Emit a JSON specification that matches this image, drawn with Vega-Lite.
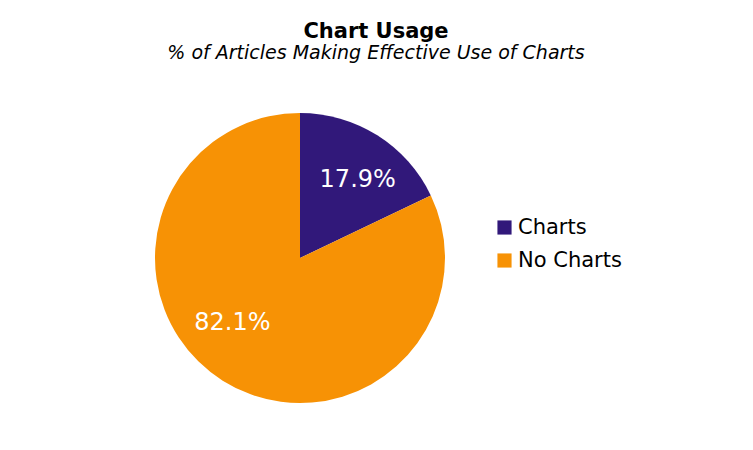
{
  "$schema": "https://vega.github.io/schema/vega-lite/v6.json",
  "autosize": {"type": "none"},
  "width": 600,
  "height": 356,
  "padding": {"left": 0, "top": 80, "right": 153, "bottom": 14},
  "background": "white",
  "config": {
    "font": "DejaVu Sans",
    "view": {"stroke": null}
  },
  "title": {
    "text": "Chart Usage",
    "subtitle": "% of Articles Making Effective Use of Charts",
    "anchor": "middle",
    "dx": 76,
    "offset": 17,
    "fontSize": 21,
    "fontWeight": "bold",
    "color": "black",
    "subtitleFontSize": 19,
    "subtitleFontStyle": "italic",
    "subtitleColor": "black",
    "subtitlePadding": 2
  },
  "data": {
    "values": [
      {"category": "Charts", "share": 0.179},
      {"category": "No Charts", "share": 0.821}
    ]
  },
  "encoding": {
    "theta": {"field": "share", "type": "quantitative", "stack": true, "scale": {"domain": [0, 1]}},
    "order": {"field": "category"}
  },
  "layer": [
    {
      "mark": {"type": "arc", "outerRadius": 145},
      "encoding": {
        "color": {
          "field": "category",
          "type": "nominal",
          "scale": {"domain": ["Charts", "No Charts"], "range": ["#31187A", "#F79205"]},
          "legend": {
            "title": null,
            "orient": "none",
            "legendX": 494,
            "legendY": 137,
            "symbolType": "square",
            "symbolSize": 200,
            "symbolStrokeWidth": 0,
            "labelFontSize": 21,
            "labelColor": "black",
            "rowPadding": 11,
            "labelOffset": 3
          }
        }
      }
    },
    {
      "mark": {"type": "text", "radius": 97, "fontSize": 24, "color": "white", "dx": 6, "dy": 4},
      "encoding": {
        "text": {
          "condition": {"test": "datum.category == 'Charts'", "field": "share", "type": "quantitative", "format": ".1%"},
          "value": ""
        }
      }
    },
    {
      "mark": {"type": "text", "radius": 95, "fontSize": 24, "color": "white", "dx": -17, "dy": -15},
      "encoding": {
        "text": {
          "condition": {"test": "datum.category == 'No Charts'", "field": "share", "type": "quantitative", "format": ".1%"},
          "value": ""
        }
      }
    }
  ]
}
